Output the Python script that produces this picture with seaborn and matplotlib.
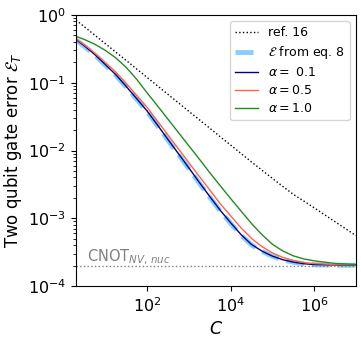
import pandas as pd
import seaborn as sns
import matplotlib.pyplot as plt

# values (log-log axes), quarter decades in C
C = [2, 3.16, 5.62, 10, 17.8, 31.6, 56.2, 100, 178, 316, 562, 1e3, 1.78e3,
     3.16e3, 5.62e3, 1e4, 1.78e4, 3.16e4, 5.62e4, 1e5, 1.78e5, 3.16e5,
     5.62e5, 1e6, 3.16e6, 1e7]

ref16 = [0.84, 0.67, 0.504, 0.378, 0.284, 0.214, 0.160, 0.120, 0.090, 0.0675,
         0.0506, 0.0379, 0.0285, 0.0214, 0.0160, 0.01205, 0.00904, 0.00679,
         0.00513, 0.00389, 0.00295, 0.00226, 0.0018, 0.00143, 0.00089, 0.000556]
eq8 = [0.427, 0.345, 0.256, 0.182, 0.129, 0.0868, 0.0573, 0.0376, 0.0232,
       0.0142, 0.00878, 0.0054, 0.0033, 0.00205, 0.00129, 0.000845, 0.000565,
       0.000406, 0.000326, 0.000275, 0.000244, 0.000225, 0.000213, 0.000207,
       0.000204, 0.000203]
alpha01 = [0.434, 0.351, 0.261, 0.186, 0.132, 0.0887, 0.0586, 0.0385, 0.0238,
           0.0146, 0.00903, 0.00556, 0.0034, 0.00211, 0.00132, 0.000863,
           0.000575, 0.000412, 0.000329, 0.000277, 0.000245, 0.000226,
           0.000214, 0.000208, 0.000205, 0.000204]
alpha05 = [0.445, 0.363, 0.275, 0.199, 0.144, 0.0982, 0.0655, 0.0436, 0.0272,
           0.0170, 0.01064, 0.00663, 0.00415, 0.00263, 0.00165, 0.00109,
           0.000723, 0.000506, 0.000383, 0.000309, 0.000265, 0.000239,
           0.000223, 0.000215, 0.000208, 0.000206]
alpha10 = [0.482, 0.435, 0.370, 0.301, 0.233, 0.169, 0.113, 0.0713, 0.0457,
           0.0291, 0.0185, 0.01177, 0.0075, 0.00473, 0.00304, 0.00196, 0.00128,
           0.00084, 0.000575, 0.000415, 0.00033, 0.00028, 0.000252,
           0.000236, 0.000216, 0.000209]

cnot_level = 2e-4

df = pd.DataFrame({'C': C, 'ref16': ref16, 'eq8': eq8,
                   'a01': alpha01, 'a05': alpha05, 'a10': alpha10})

fig, ax = plt.subplots(figsize=(3.61, 3.39), dpi=100)
fig.subplots_adjust(left=0.2105, right=0.986, top=0.956, bottom=0.156)

sns.lineplot(data=df, x='C', y='ref16', ax=ax, color='black', linestyle=':',
             linewidth=1, label='ref. 16')
sns.lineplot(data=df, x='C', y='eq8', ax=ax, color='lightskyblue', linestyle='--',
             linewidth=3.5, label=r'$\mathcal{E}$ from eq. 8')
sns.lineplot(data=df, x='C', y='a01', ax=ax, color='navy',
             linewidth=1, label=r'$\alpha = $ 0.1')
sns.lineplot(data=df, x='C', y='a05', ax=ax, color='tomato',
             linewidth=1, label=r'$\alpha = 0.5$')
sns.lineplot(data=df, x='C', y='a10', ax=ax, color='forestgreen',
             linewidth=1, label=r'$\alpha = 1.0$')

ax.axhline(cnot_level, color='gray', linestyle=':', linewidth=1)
ax.text(3.6, 2.3e-4, r'CNOT$_{NV,\, nuc}$', color='gray', fontsize=10.5)

ax.set_xscale('log')
ax.set_yscale('log')
ax.set_xlim(2, 1e7)
ax.set_ylim(1e-4, 1)
ax.set_xticks([1e2, 1e4, 1e6])
ax.tick_params(labelsize=11.5)

ax.set_xlabel('$C$', fontsize=12.5)
ax.set_ylabel(r'Two qubit gate error $\mathcal{E}_T$', fontsize=12, labelpad=3)

ax.legend(loc='upper right', fontsize=9, labelspacing=0.4, handlelength=1.8)

plt.savefig('out.png', dpi=100)
